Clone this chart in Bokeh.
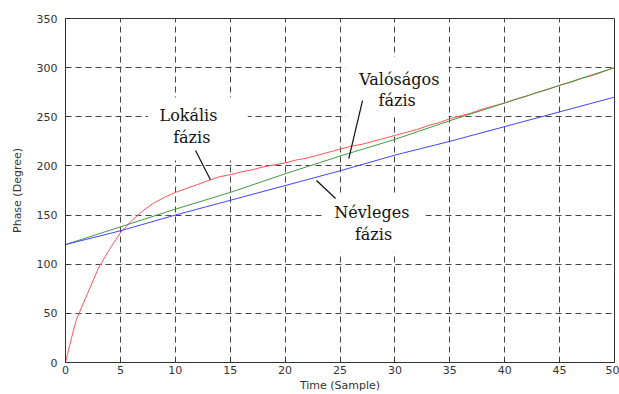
from bokeh.plotting import figure
from bokeh.models import Range1d, FixedTicker, Label, BoxAnnotation
from bokeh.embed import file_html
from bokeh.resources import INLINE

# ---- data ----
x_local = [0, 0.5, 1, 2, 3, 4, 5, 6, 7, 8, 9, 10, 11, 12, 13, 14, 15, 16, 17, 18, 19, 20,
           21, 22, 23, 24, 25, 26, 27, 28, 29, 30, 31, 32, 33, 34, 35, 36, 37, 38, 39, 40,
           41, 42, 43, 44, 45, 46, 47, 48, 49, 50]
y_local = [0, 23, 44, 70, 96, 115, 132, 144, 154, 162, 168, 173, 177, 181, 185, 189, 191, 194, 196, 199, 201, 203,
           206, 208, 211, 214, 217, 220, 222, 225, 228, 231, 234, 237, 241, 244, 248, 251, 254, 258, 261, 264,
           268, 271, 275, 278, 282, 285, 289, 292, 296, 300]

x_real = [0, 5, 10, 15, 20, 25, 30, 35, 40, 45, 50]
y_real = [120, 138, 156, 173, 192, 210, 227, 246, 264, 282, 300]

x_nom = [0, 5, 10, 15, 20, 25, 30, 35, 40, 45, 50]
y_nom = [120, 134, 150, 165, 180, 195, 211, 225, 240, 255, 270]

x_ticks = [0, 5, 10, 15, 20, 25, 30, 35, 40, 45, 50]
y_ticks = [0, 50, 100, 150, 200, 250, 300, 350]

# annotations
ann_text = [("Lokális", "fázis"), ("Valóságos", "fázis"), ("Névleges", "fázis")]
ann_line1_pos = [(11.2, 250.8), (30.4, 288.4), (27.9, 152.6)]
ann_line2_pos = [(11.5, 229.4), (30.2, 267.0), (28.05, 130.2)]
ann_boxes = [(7.5, 16.6, 269.5, 205.5), (25.5, 34.9, 311.0, 249.5), (23.5, 32.8, 170.0, 112.0)]
ptr_x0 = [11.84, 27.05, 22.86]
ptr_y0 = [215.7, 266.5, 185.2]
ptr_x1 = [13.2, 25.8, 24.6]
ptr_y1 = [186.0, 207.5, 166.8]

p = figure(width=619, height=394, output_backend="svg", toolbar_location=None,
           x_range=Range1d(0, 50), y_range=Range1d(0, 350),
           min_border_left=65, min_border_right=5, min_border_top=18, min_border_bottom=32)
p.background_fill_color = "white"
p.border_fill_color = "white"
p.outline_line_color = "#333333"
p.outline_line_width = 1

for ax in (p.xaxis, p.yaxis):
    ax.axis_line_color = "#333333"
    ax.major_tick_line_color = "#333333"
    ax.major_tick_out = 0
    ax.major_tick_in = 3
    ax.minor_tick_out = 0
    ax.minor_tick_in = 0
    ax.major_label_text_font = "DejaVu Sans"
    ax.major_label_text_font_size = "11px"
    ax.major_label_text_color = "#333333"
    ax.axis_label_text_font = "DejaVu Sans"
    ax.axis_label_text_font_size = "11px"
    ax.axis_label_text_font_style = "normal"
    ax.axis_label_text_color = "#333333"

p.xaxis.ticker = FixedTicker(ticks=x_ticks)
p.yaxis.ticker = FixedTicker(ticks=y_ticks)
p.xaxis.axis_label = "Time (Sample)"
p.yaxis.axis_label = "Phase (Degree)"
p.xaxis.major_label_standoff = 3
p.xaxis.axis_label_standoff = 2
p.yaxis.major_label_standoff = 8
p.yaxis.axis_label_standoff = 10

for g in (p.xgrid, p.ygrid):
    g.grid_line_color = "#444444"
    g.grid_line_dash = "6 4"
    g.grid_line_width = 1

for (l, r, t, b) in ann_boxes:
    p.add_layout(BoxAnnotation(left=l, right=r, top=t, bottom=b, fill_color="white",
                               fill_alpha=1.0, line_alpha=0, level="underlay"))

p.line(x_local, y_local, line_color="#ff5555", line_width=1)
p.line(x_real, y_real, line_color="#449944", line_width=1)
p.line(x_nom, y_nom, line_color="#4444ff", line_width=1)

p.segment(ptr_x0, ptr_y0, ptr_x1, ptr_y1, line_color="#111111", line_width=1.2)

for (t1, t2), (ax1, ay1), (ax2, ay2) in zip(ann_text, ann_line1_pos, ann_line2_pos):
    for txt, xx, yy in ((t1, ax1, ay1), (t2, ax2, ay2)):
        p.add_layout(Label(x=xx, y=yy, text=txt, text_align="center", text_baseline="middle",
                           text_font="DejaVu Serif", text_font_size="16px", text_color="#111111"))

open("out.html", "w").write(file_html(p, INLINE))
